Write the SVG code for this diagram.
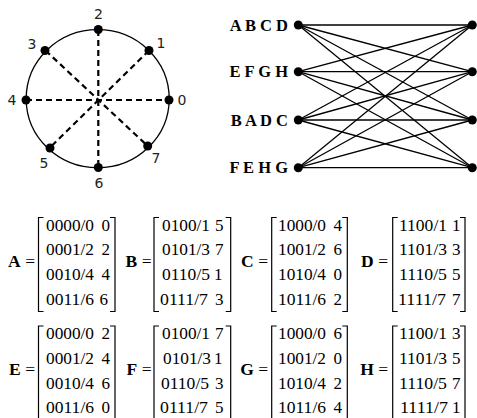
<svg xmlns="http://www.w3.org/2000/svg" width="477" height="418" viewBox="0 0 477 418">
<style>
.dot{fill:#000}
.circ{fill:none;stroke:#000;stroke-width:1.3}
.dash{stroke:#000;stroke-width:2.2;stroke-dasharray:6 4;fill:none}
.num{font-family:"DejaVu Sans",sans-serif;font-size:14px;fill:#222;text-anchor:middle}
.edge{stroke:#000;stroke-width:1.3}
.blab{font-family:"Liberation Serif",serif;font-weight:bold;font-size:16.5px;text-anchor:end;fill:#000}
.mt{font-family:"Liberation Serif",serif;font-size:17px;fill:#000}
.ml{font-family:"Liberation Serif",serif;font-size:17.5px;fill:#000;text-anchor:end}
.br{fill:none;stroke:#000;stroke-width:1.2}
</style>
<rect width="477" height="418" fill="#fff"/>

<g id="ring">
<ellipse class="circ" cx="97.7" cy="98.7" rx="71.5" ry="69"/>
</g>
<g id="spokes">
<line class="dash" x1="98.3" y1="30" x2="98.3" y2="167.5"/>
<line class="dash" x1="26" y1="100" x2="169" y2="100"/>
<line class="dash" x1="45.5" y1="50.5" x2="147.7" y2="146"/>
<line class="dash" x1="149" y1="50.5" x2="49.5" y2="148"/>
</g>
<g id="pos0"><circle class="dot" cx="169" cy="100" r="4.5"/><text class="num" x="182" y="105">0</text></g>
<g id="pos1"><circle class="dot" cx="149" cy="50.5" r="4.5"/><text class="num" x="161" y="48">1</text></g>
<g id="pos2"><circle class="dot" cx="98.3" cy="29.5" r="4.5"/><text class="num" x="98.5" y="19">2</text></g>
<g id="pos3"><circle class="dot" cx="45" cy="50.5" r="4.5"/><text class="num" x="32" y="49">3</text></g>
<g id="pos4"><circle class="dot" cx="26" cy="100" r="4.5"/><text class="num" x="12" y="105">4</text></g>
<g id="pos5"><circle class="dot" cx="50" cy="148" r="4.5"/><text class="num" x="44" y="168">5</text></g>
<g id="pos6"><circle class="dot" cx="98.3" cy="167.5" r="4.5"/><text class="num" x="99" y="188">6</text></g>
<g id="pos7"><circle class="dot" cx="147.7" cy="146" r="4.5"/><text class="num" x="156" y="163">7</text></g>

<g id="connectors">
<line class="edge" x1="298.3" y1="25" x2="472.3" y2="25"/>
<line class="edge" x1="298.3" y1="25" x2="472.3" y2="71.7"/>
<line class="edge" x1="298.3" y1="25" x2="472.3" y2="120"/>
<line class="edge" x1="298.3" y1="25" x2="472.3" y2="167.7"/>
<line class="edge" x1="298.3" y1="71.7" x2="472.3" y2="25"/>
<line class="edge" x1="298.3" y1="71.7" x2="472.3" y2="71.7"/>
<line class="edge" x1="298.3" y1="71.7" x2="472.3" y2="120"/>
<line class="edge" x1="298.3" y1="71.7" x2="472.3" y2="167.7"/>
<line class="edge" x1="298.3" y1="120" x2="472.3" y2="25"/>
<line class="edge" x1="298.3" y1="120" x2="472.3" y2="71.7"/>
<line class="edge" x1="298.3" y1="120" x2="472.3" y2="120"/>
<line class="edge" x1="298.3" y1="120" x2="472.3" y2="167.7"/>
<line class="edge" x1="298.3" y1="167.7" x2="472.3" y2="25"/>
<line class="edge" x1="298.3" y1="167.7" x2="472.3" y2="71.7"/>
<line class="edge" x1="298.3" y1="167.7" x2="472.3" y2="120"/>
<line class="edge" x1="298.3" y1="167.7" x2="472.3" y2="167.7"/>
</g>
<g id="L1"><circle class="dot" cx="298.3" cy="25" r="4.5"/><text class="blab" x="288" y="30.5">A B C D</text></g>
<g id="L2"><circle class="dot" cx="298.3" cy="71.7" r="4.5"/><text class="blab" x="288" y="77.2">E F G H</text></g>
<g id="L3"><circle class="dot" cx="298.3" cy="120" r="4.5"/><text class="blab" x="288" y="125.5">B A D C</text></g>
<g id="L4"><circle class="dot" cx="298.3" cy="167.7" r="4.5"/><text class="blab" x="288" y="173.2">F E H G</text></g>
<g id="R1"><circle class="dot" cx="472.3" cy="25" r="4.5"/></g>
<g id="R2"><circle class="dot" cx="472.3" cy="71.7" r="4.5"/></g>
<g id="R3"><circle class="dot" cx="472.3" cy="120" r="4.5"/></g>
<g id="R4"><circle class="dot" cx="472.3" cy="167.7" r="4.5"/></g>

<g id="matA">
<text class="ml" x="35" y="267"><tspan font-weight="bold">A</tspan> =</text>
<path class="br" d="M43.5,217.5H38.5V311.5H43.5M110,217.5H115V311.5H110"/>
<g class="mt"><text x="46" y="230.5" textLength="48" lengthAdjust="spacingAndGlyphs">0000/0</text><text x="101.5" y="230.5">0</text>
<text x="46" y="255.3" textLength="48" lengthAdjust="spacingAndGlyphs">0001/2</text><text x="101.5" y="255.3">2</text>
<text x="46" y="280.1" textLength="48" lengthAdjust="spacingAndGlyphs">0010/4</text><text x="101.5" y="280.1">4</text>
<text x="46" y="304.9" textLength="48" lengthAdjust="spacingAndGlyphs">0011/6</text><text x="99.5" y="304.9">6</text></g>
</g>
<g id="matB">
<text class="ml" x="151.5" y="267"><tspan font-weight="bold">B</tspan> =</text>
<path class="br" d="M159,217.5H154V311.5H159M225.7,217.5H230.7V311.5H225.7"/>
<g class="mt"><text x="162" y="230.5" textLength="48" lengthAdjust="spacingAndGlyphs">0100/1</text><text x="215" y="230.5">5</text>
<text x="162" y="255.3" textLength="48" lengthAdjust="spacingAndGlyphs">0101/3</text><text x="215" y="255.3">7</text>
<text x="162" y="280.1" textLength="48" lengthAdjust="spacingAndGlyphs">0110/5</text><text x="214" y="280.1">1</text>
<text x="160" y="304.9" textLength="48" lengthAdjust="spacingAndGlyphs">0111/7</text><text x="215" y="304.9">3</text></g>
</g>
<g id="matC">
<text class="ml" x="268" y="267"><tspan font-weight="bold">C</tspan> =</text>
<path class="br" d="M276.7,217.5H271.7V311.5H276.7M342.3,217.5H347.3V311.5H342.3"/>
<g class="mt"><text x="278" y="230.5" textLength="48" lengthAdjust="spacingAndGlyphs">1000/0</text><text x="333.5" y="230.5">4</text>
<text x="278" y="255.3" textLength="48" lengthAdjust="spacingAndGlyphs">1001/2</text><text x="333.5" y="255.3">6</text>
<text x="278" y="280.1" textLength="48" lengthAdjust="spacingAndGlyphs">1010/4</text><text x="333.5" y="280.1">0</text>
<text x="278" y="304.9" textLength="48" lengthAdjust="spacingAndGlyphs">1011/6</text><text x="333.5" y="304.9">2</text></g>
</g>
<g id="matD">
<text class="ml" x="388" y="267"><tspan font-weight="bold">D</tspan> =</text>
<path class="br" d="M397.7,217.5H392.7V311.5H397.7M460,217.5H465V311.5H460"/>
<g class="mt"><text x="399" y="230.5" textLength="48" lengthAdjust="spacingAndGlyphs">1100/1</text><text x="452" y="230.5">1</text>
<text x="399" y="255.3" textLength="48" lengthAdjust="spacingAndGlyphs">1101/3</text><text x="452" y="255.3">3</text>
<text x="399" y="280.1" textLength="48" lengthAdjust="spacingAndGlyphs">1110/5</text><text x="452" y="280.1">5</text>
<text x="398" y="304.9" textLength="48" lengthAdjust="spacingAndGlyphs">1111/7</text><text x="452" y="304.9">7</text></g>
</g>

<g id="matE">
<text class="ml" x="35" y="375"><tspan font-weight="bold">E</tspan> =</text>
<path class="br" d="M43.5,326H38.5V425H43.5M110,326H115V425H110"/>
<g class="mt"><text x="46" y="339" textLength="48" lengthAdjust="spacingAndGlyphs">0000/0</text><text x="101.5" y="339">2</text>
<text x="46" y="363.8" textLength="48" lengthAdjust="spacingAndGlyphs">0001/2</text><text x="101.5" y="363.8">4</text>
<text x="46" y="388.6" textLength="48" lengthAdjust="spacingAndGlyphs">0010/4</text><text x="101.5" y="388.6">6</text>
<text x="46" y="413.4" textLength="48" lengthAdjust="spacingAndGlyphs">0011/6</text><text x="101.5" y="413.4">0</text></g>
</g>
<g id="matF">
<text class="ml" x="151.5" y="375"><tspan font-weight="bold">F</tspan> =</text>
<path class="br" d="M159,326H154V425H159M225.7,326H230.7V425H225.7"/>
<g class="mt"><text x="162" y="339" textLength="48" lengthAdjust="spacingAndGlyphs">0100/1</text><text x="215" y="339">7</text>
<text x="163" y="363.8" textLength="48" lengthAdjust="spacingAndGlyphs">0101/3</text><text x="214" y="363.8">1</text>
<text x="161" y="388.6" textLength="48" lengthAdjust="spacingAndGlyphs">0110/5</text><text x="215" y="388.6">3</text>
<text x="160" y="413.4" textLength="48" lengthAdjust="spacingAndGlyphs">0111/7</text><text x="215" y="413.4">5</text></g>
</g>
<g id="matG">
<text class="ml" x="268" y="375"><tspan font-weight="bold">G</tspan> =</text>
<path class="br" d="M276.7,326H271.7V425H276.7M342.3,326H347.3V425H342.3"/>
<g class="mt"><text x="278" y="339" textLength="48" lengthAdjust="spacingAndGlyphs">1000/0</text><text x="333.5" y="339">6</text>
<text x="278" y="363.8" textLength="48" lengthAdjust="spacingAndGlyphs">1001/2</text><text x="333.5" y="363.8">0</text>
<text x="278" y="388.6" textLength="48" lengthAdjust="spacingAndGlyphs">1010/4</text><text x="333.5" y="388.6">2</text>
<text x="278" y="413.4" textLength="48" lengthAdjust="spacingAndGlyphs">1011/6</text><text x="333.5" y="413.4">4</text></g>
</g>
<g id="matH">
<text class="ml" x="388" y="375"><tspan font-weight="bold">H</tspan> =</text>
<path class="br" d="M397.7,326H392.7V425H397.7M460,326H465V425H460"/>
<g class="mt"><text x="399" y="339" textLength="48" lengthAdjust="spacingAndGlyphs">1100/1</text><text x="452" y="339">3</text>
<text x="399" y="363.8" textLength="48" lengthAdjust="spacingAndGlyphs">1101/3</text><text x="452" y="363.8">5</text>
<text x="399" y="388.6" textLength="48" lengthAdjust="spacingAndGlyphs">1110/5</text><text x="452" y="388.6">7</text>
<text x="400" y="413.4" textLength="48" lengthAdjust="spacingAndGlyphs">1111/7</text><text x="452" y="413.4">1</text></g>
</g>
</svg>
